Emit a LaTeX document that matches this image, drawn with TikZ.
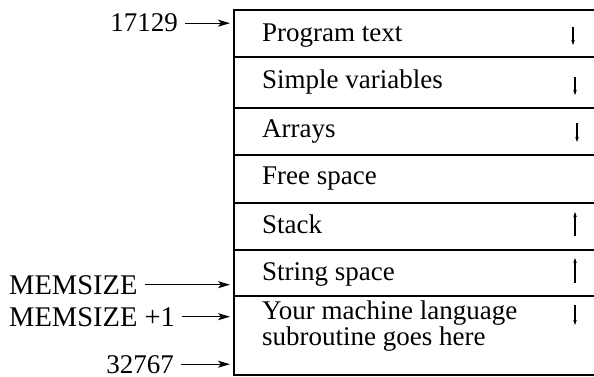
\documentclass[tikz,border=0pt]{standalone}
\usepackage{fontspec}
\setmainfont{Liberation Serif}
\usetikzlibrary{arrows.meta}
\begin{document}
\begin{tikzpicture}[x=1pt,y=-1pt,
  rowcell/.style={minimum width=360pt,inner sep=0pt,anchor=north west},
  celltext/.style={anchor=base west,inner sep=0pt,font=\fontsize{27}{23}\selectfont,align=left},
  addr/.style={inner sep=0pt,font=\fontsize{27}{30}\selectfont},
  addrwide/.style={inner sep=0pt,font=\fontsize{28.5}{30}\selectfont},
  memrule/.style={line width=2pt,line cap=rect},
  ptr/.style={line width=1.2pt,-{Stealth[length=12pt,width=7pt,inset=3pt]},shorten <=7pt,shorten >=4pt},
  growdir/.style={line width=1.1pt,-{Stealth[length=5pt,width=3.5pt]}}]
\useasboundingbox (0,0) rectangle (594,377);
% memory rows
\node[rowcell,minimum height=47pt] (r1) at (234,10) {};
\node[rowcell,minimum height=51pt] (r2) at (234,57) {};
\node[rowcell,minimum height=47pt] (r3) at (234,108) {};
\node[rowcell,minimum height=48pt] (r4) at (234,155) {};
\node[rowcell,minimum height=47pt] (r5) at (234,203) {};
\node[rowcell,minimum height=46pt] (r6) at (234,250) {};
\node[rowcell,minimum height=79pt] (r7) at (234,296) {};
\draw[memrule] (r1.north west) -- (r1.north east);
\foreach \r in {r1,r2,r3,r4,r5,r6,r7}
  \draw[memrule] (\r.south west) -- (\r.south east);
\draw[memrule] (r1.north west) -- (r7.south west);
% row texts
\node[celltext] (t1) at (262,42) {Program text};
\node[celltext] (t2) at (262,89) {Simple variables};
\node[celltext] (t3) at (262,137) {Arrays};
\node[celltext] (t4) at (262,184) {Free space};
\node[celltext] (t5) at (262,233) {Stack};
\node[celltext] (t6) at (262,280) {String space};
\node[celltext] (t7) at (262,345) {Your machine language\\subroutine goes here};
% growth directions
\draw[growdir] (573,27) -- (573,45);
\draw[growdir] (575,77) -- (575,95);
\draw[growdir] (577,123) -- (577,142);
\draw[growdir] (575,236) -- (575,212);
\draw[growdir] (575,283) -- (575,258);
\draw[growdir] (575,305) -- (575,325);
% addresses
\node[addr,anchor=base east] (a1) at (178,32) {17129};
\node[addrwide,anchor=base west] (a2) at (9,294) {MEMSIZE};
\node[addrwide,anchor=base west] (a3) at (9,326) {MEMSIZE +1};
\node[addr,anchor=base east] (a4) at (174,373) {32767};
\draw[ptr] (a1.east) -- (a1.east -| r1.west);
\draw[ptr] (a2.east) -- (a2.east -| r6.west);
\draw[ptr] (a3.east) -- (a3.east -| r7.west);
\draw[ptr] (a4.east) -- (a4.east -| r7.west);
\end{tikzpicture}
\end{document}
